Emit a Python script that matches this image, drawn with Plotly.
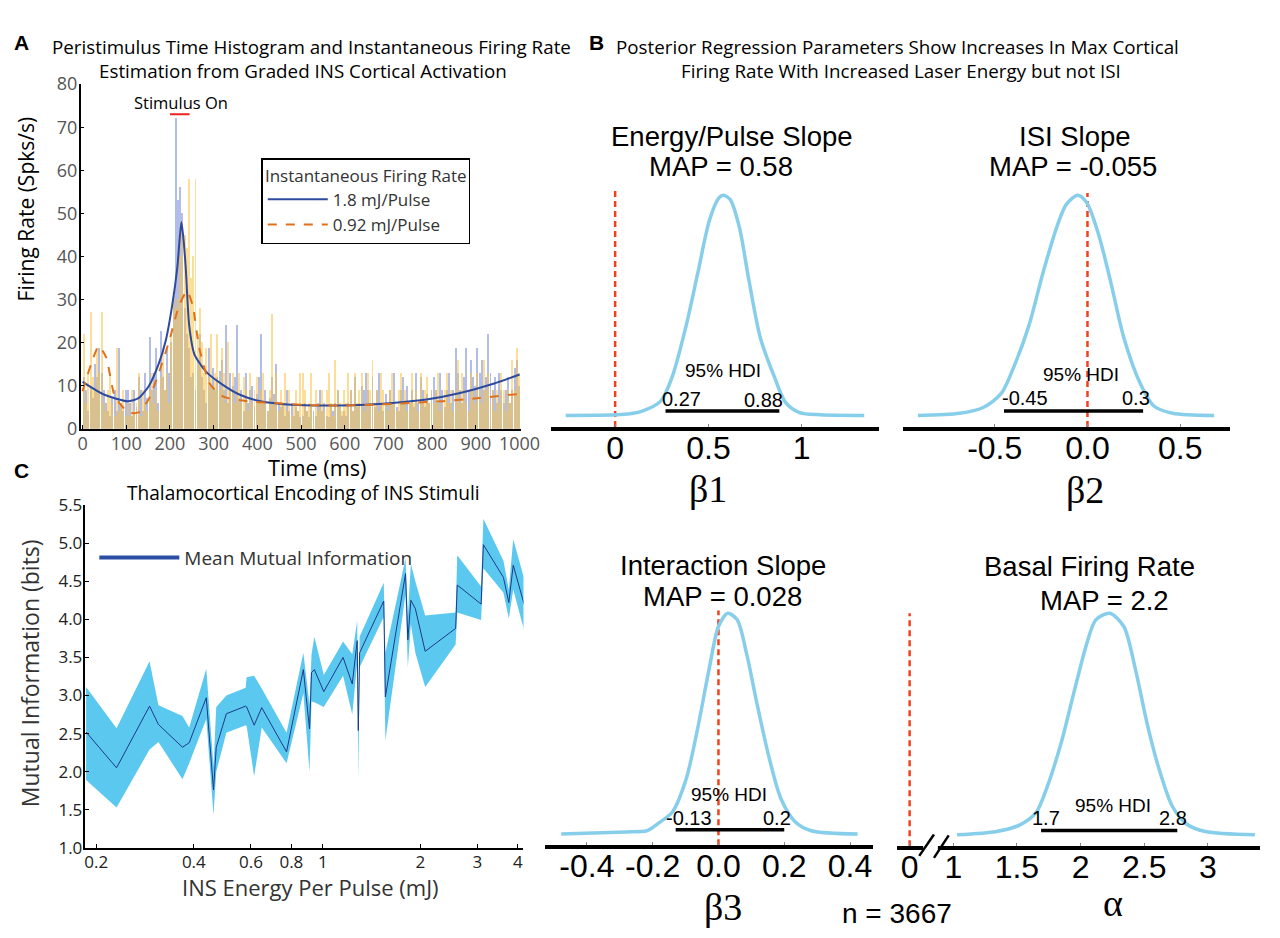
import numpy as np
import plotly.graph_objects as go

W, H = 1280, 938
def px(v): return v / W
def py(v): return 1 - v / H

SANS = "Open Sans, Liberation Sans, Arial, sans-serif"
ARIAL = "Liberation Sans, Arial, sans-serif"
SERIF = "Liberation Serif, Times New Roman, serif"

# ---------------- Panel A data ----------------
bin_width = 5
bin_start = list(range(0, 1000, bin_width))
psth_1p8 = [
    12, 9, 4, 10, 7, 15, 12, 18.7, 13, 9,
    6, 4, 3, 7, 9, 4, 18.7, 6, 4, 9,
    9, 6, 3, 9, 5, 12, 9, 4, 13, 7,
    21.3, 9, 13, 18.7, 6, 22.7, 12, 9, 18.7, 13,
    20, 31, 72, 53, 56, 50, 28, 22, 18.7, 12,
    13, 9, 16, 22, 12, 9, 6, 18.7, 10, 14,
    9, 12, 13.3, 16, 9, 24, 6, 13, 10, 12,
    24, 7, 9, 4, 13, 6, 9, 10, 5, 8,
    12, 22, 6, 9, 4, 7, 12, 8, 15, 6,
    5, 6, 3, 9, 4, 6, 3, 5, 4, 2.7,
    3, 6, 4, 2.7, 5, 4, 3, 6, 9, 4,
    6, 3, 2.7, 5, 4, 6, 9, 5, 3, 4,
    3, 6, 9, 4, 12, 5, 6, 10, 9, 13,
    9, 6, 12, 5, 9, 13, 6, 4, 8, 6,
    9, 6, 13, 5, 4, 9, 12, 6, 10, 6,
    9, 5, 13, 6, 12, 9, 5, 8, 6, 9,
    12, 9, 6, 13, 9, 5, 9, 13, 6, 9,
    18.7, 13, 9, 6, 12, 18.7, 9, 16, 12, 10,
    18.7, 13, 16, 9, 12, 22, 13, 9, 12, 6,
    13, 9, 6, 9, 12, 6, 9, 14, 16, 10,
]
psth_0p92 = [
    22, 6, 13, 27, 12, 9, 18.7, 13, 27, 6,
    4, 9, 13, 6, 3, 18.7, 4, 6, 9, 3,
    6, 3, 9, 4, 6, 13, 3, 9, 6, 4,
    9, 13, 6, 9, 4, 12, 18.7, 9, 13, 6,
    22, 31, 28, 30, 40, 48, 45, 42, 58, 35,
    40, 58, 22, 28, 20, 13, 18.7, 12, 22, 9,
    13, 22, 9, 18.7, 13, 6, 20, 9, 13, 6,
    9, 13, 6, 12, 9, 4, 13, 6, 9, 12,
    6, 9, 13, 6, 4, 9, 26.7, 6, 13, 4,
    9, 6, 13, 4, 9, 3, 6, 9, 4, 13,
    13, 9, 4, 6, 13, 3, 9, 4, 6, 9,
    4, 9, 13, 6, 3, 16, 9, 6, 4, 9,
    6, 13, 9, 4, 13, 6, 9, 13, 4, 6,
    13, 9, 16, 6, 9, 4, 13, 9, 6, 4,
    9, 13, 6, 4, 9, 13, 6, 9, 4, 6,
    13, 6, 9, 4, 13, 6, 9, 12, 6, 9,
    6, 9, 13, 4, 6, 9, 13, 6, 9, 4,
    9, 16, 6, 13, 9, 6, 4, 13, 9, 6,
    13, 9, 6, 16, 9, 13, 6, 9, 4, 9,
    6, 13, 9, 4, 9, 6, 16, 9, 18.7, 13,
]
rate_t_1p8 = [0, 50, 103, 128, 151, 174, 190, 205, 217, 226, 230, 236, 244, 256,
              283, 321, 360, 407, 477, 554, 632, 709, 787, 864, 942, 1000]
rate_1p8 = [10.9, 7.9, 6.4, 7.1, 9.8, 15, 20.3, 28.6, 37.6, 48, 45, 37.6, 24, 17.3,
            13.2, 10.2, 7.9, 6.4, 5.6, 5.4, 5.5, 6.0, 6.8, 8.3, 10.5, 12.6]
rate_t_0p92 = [0, 19.5, 37, 54, 74, 105, 128, 151, 174, 198, 221, 239, 252, 267,
               291, 321, 376, 438, 515, 593, 670, 748, 825, 903, 1000]
rate_0p92 = [8.7, 15, 19.2, 16.6, 7.5, 3.8, 3.8, 6.8, 12.8, 20.3, 28.6, 32, 28.6, 18.8,
             10.5, 7.5, 6.4, 6.0, 5.5, 5.4, 5.6, 6.0, 6.4, 7.1, 8.1]
stim_window = [200, 245]
stim_marker_level = 73

# ---------------- Panel C data ----------------
energy = [0.186, 0.231, 0.292, 0.311, 0.369, 0.387, 0.437, 0.460, 0.469, 0.504, 0.578,
          0.582, 0.614, 0.648, 0.773, 0.871, 0.910, 0.923, 0.942, 1.007, 1.155, 1.233,
          1.277, 1.287, 1.299, 1.542, 1.560, 1.800, 1.830, 1.870, 1.930, 2.070, 2.570,
          2.600, 3.080, 3.130, 3.610, 3.750, 3.870, 4.180]
mi_mean = [2.52, 2.05, 2.86, 2.62, 2.32, 2.38, 2.97, 1.76, 2.32, 2.76, 2.86,
           2.85, 2.61, 2.84, 2.26, 3.34, 2.56, 3.30, 3.34, 3.05, 3.50, 3.15,
           3.72, 2.54, 3.56, 4.24, 2.98, 4.60, 3.73, 4.25, 4.14, 3.58, 3.88,
           4.45, 4.20, 4.98, 4.55, 4.22, 4.71, 4.20]
mi_upper = [3.11, 2.57, 3.45, 2.87, 2.73, 2.58, 3.35, 2.07, 2.85, 3.00, 3.10,
            3.24, 3.26, 3.09, 2.51, 3.56, 2.88, 3.54, 3.77, 3.27, 3.71, 3.54,
            3.98, 2.67, 3.77, 4.48, 3.56, 4.80, 4.03, 4.73, 4.50, 4.05, 4.09,
            4.84, 4.43, 5.32, 4.77, 4.39, 5.05, 4.54]
mi_lower = [1.89, 1.53, 2.29, 2.39, 1.90, 2.11, 2.69, 1.43, 2.00, 2.51, 2.61,
            2.60, 1.94, 2.58, 2.11, 3.03, 2.00, 2.92, 2.91, 2.85, 3.26, 2.75,
            3.43, 1.90, 3.37, 4.03, 2.41, 4.33, 3.37, 3.94, 3.56, 3.11, 3.67,
            4.09, 3.99, 4.67, 4.35, 4.01, 4.39, 3.86]
energy_ticks = [0.2, 0.4, 0.6, 0.8, 1, 2, 3, 4]

# ---------------- Panel B data ----------------
b1_x = [-0.265, 0.05, 0.145, 0.244, 0.306, 0.381, 0.443, 0.505, 0.555, 0.58, 0.617,
        0.666, 0.716, 0.778, 0.853, 0.914, 0.988, 1.10, 1.335]
b1_d = [0, 0.005, 0.02, 0.065, 0.176, 0.41, 0.647, 0.885, 0.987, 1.0, 0.98,
        0.854, 0.618, 0.353, 0.176, 0.058, 0.013, 0.003, 0]
b2_x = [-0.914, -0.689, -0.565, -0.465, -0.39, -0.315, -0.24, -0.166, -0.115, -0.053,
        -0.003, 0.059, 0.122, 0.196, 0.284, 0.358, 0.459, 0.683]
b2_d = [0, 0.01, 0.035, 0.10, 0.235, 0.41, 0.647, 0.854, 0.957, 1.0,
        0.965, 0.824, 0.618, 0.353, 0.146, 0.043, 0.01, 0]
b3_x = [-0.478, -0.281, -0.218, -0.182, -0.14, -0.098, -0.063, -0.028, 0.0, 0.028,
        0.057, 0.085, 0.12, 0.155, 0.19, 0.233, 0.282, 0.423]
b3_d = [0, 0.01, 0.015, 0.05, 0.10, 0.25, 0.48, 0.75, 0.94, 1.0,
        0.97, 0.82, 0.57, 0.34, 0.16, 0.056, 0.015, 0]
al_x = [1.03, 1.34, 1.52, 1.65, 1.74, 1.85, 1.96, 2.05, 2.12, 2.23, 2.34, 2.43,
        2.52, 2.61, 2.72, 2.83, 2.98, 3.37]
al_d = [0, 0.015, 0.044, 0.10, 0.22, 0.42, 0.67, 0.865, 0.97, 1.0, 0.94, 0.75,
        0.51, 0.31, 0.13, 0.05, 0.015, 0]
hdi_b1 = [0.27, 0.88]
hdi_b2 = [-0.45, 0.30]
hdi_b3 = [-0.13, 0.20]
hdi_al = [1.69, 2.76]
alpha_zero_pos = 0.657   # where "0" sits on the broken alpha axis

fig = go.Figure()

# ---- Panel A traces ----
centers = [s + bin_width / 2 for s in bin_start]
fig.add_trace(go.Bar(x=centers, y=psth_1p8, width=bin_width * 0.9, xaxis="x", yaxis="y",
                     marker=dict(color="rgba(115,135,215,0.55)", line=dict(width=0)),
                     showlegend=False, hoverinfo="skip"))
fig.add_trace(go.Bar(x=centers, y=psth_0p92, width=bin_width * 0.9, xaxis="x", yaxis="y",
                     marker=dict(color="rgba(250,195,70,0.55)", line=dict(width=0)),
                     showlegend=False, hoverinfo="skip"))
fig.add_trace(go.Scatter(x=rate_t_1p8, y=rate_1p8, mode="lines", xaxis="x", yaxis="y",
                         line=dict(color="#2e4a9e", width=2, shape="spline", smoothing=0.6),
                         name="1.8 mJ/Pulse", legend="legend"))
fig.add_trace(go.Scatter(x=rate_t_0p92, y=rate_0p92, mode="lines", xaxis="x", yaxis="y",
                         line=dict(color="#e2701a", width=2, dash="dash", shape="spline", smoothing=0.6),
                         name="0.92 mJ/Pulse", legend="legend"))
fig.add_trace(go.Scatter(x=stim_window, y=[stim_marker_level] * 2, mode="lines", xaxis="x", yaxis="y",
                         line=dict(color="#ee2222", width=2), showlegend=False))

# ---- Panel C traces ----
fig.add_trace(go.Scatter(x=energy, y=mi_upper, mode="lines", xaxis="x2", yaxis="y2",
                         line=dict(width=0, color="#5bc8f0"), showlegend=False, hoverinfo="skip"))
fig.add_trace(go.Scatter(x=energy, y=mi_lower, mode="lines", xaxis="x2", yaxis="y2",
                         line=dict(width=0, color="#5bc8f0"), fill="tonexty",
                         fillcolor="#5bc8f0", showlegend=False, hoverinfo="skip"))
fig.add_trace(go.Scatter(x=energy, y=mi_mean, mode="lines", xaxis="x2", yaxis="y2",
                         line=dict(width=1, color="#1c3a8a"), showlegend=False))
fig.add_trace(go.Scatter(x=[None], y=[None], mode="lines", xaxis="x2", yaxis="y2",
                         line=dict(width=4, color="#2a4ea6"), name="Mean Mutual Information",
                         legend="legend2"))

# ---- Panel B traces ----
panels = [
    (b1_x, b1_d, hdi_b1, "x3", "y3", 0, [-0.053, 1.022]),
    (b2_x, b2_d, hdi_b2, "x4", "y4", 0, [-0.053, 1.01]),
    (b3_x, b3_d, hdi_b3, "x5", "y5", 0, [-0.05, 1.013]),
    (al_x, al_d, hdi_al, "x6", "y6", alpha_zero_pos, [-0.051, 1.0]),
]
for xs, ds, hdi, xa, ya, zpos, zy in panels:
    fig.add_trace(go.Scatter(x=[zpos, zpos], y=zy, mode="lines", xaxis=xa, yaxis=ya,
                             line=dict(color="#f2401c", width=2.5, dash="6px,4px"), showlegend=False))
    fig.add_trace(go.Scatter(x=xs, y=ds, mode="lines", xaxis=xa, yaxis=ya,
                             line=dict(color="#87ceeb", width=3.5, shape="spline", smoothing=0.8),
                             showlegend=False))
    fig.add_trace(go.Scatter(x=hdi, y=[0.02, 0.02], mode="lines", xaxis=xa, yaxis=ya,
                             line=dict(color="black", width=3.5), showlegend=False))

# ---------------- Layout ----------------
def small_axis(**kw):
    d = dict(showgrid=False, zeroline=False, showline=True, linecolor="black", linewidth=1.5,
             ticks="inside", ticklen=4, tickcolor="black", mirror=False, ticklabelstandoff=-2)
    d.update(kw)
    return d

def b_xaxis(domain, rng, tv, tt, anchor):
    return dict(domain=domain, range=rng, tickvals=tv, ticktext=tt, anchor=anchor,
                showgrid=False, zeroline=False, showline=True, linecolor="black", linewidth=3.5,
                ticks="inside", ticklen=3, tickcolor="#888", tickwidth=1,
                ticklabelstandoff=-10,
                tickfont=dict(family=ARIAL, size=32, color="black"), fixedrange=True)

def b_yaxis(domain, rng, anchor):
    return dict(domain=domain, range=rng, anchor=anchor, visible=False, showgrid=False,
                zeroline=False)

layout = dict(
    width=W, height=H, autosize=False, margin=dict(l=0, r=0, t=0, b=0, pad=0),
    paper_bgcolor="white", plot_bgcolor="rgba(0,0,0,0)",
    barmode="overlay", bargap=0,
    xaxis=small_axis(domain=[px(79), px(527)], range=[-4.5, 1002.2], anchor="y",
                     tickvals=list(range(0, 1001, 100)),
                     tickfont=dict(family=SANS, size=18, color="#555")),
    yaxis=small_axis(domain=[py(426.7), py(73)], range=[0, 80], anchor="x",
                     tickvals=list(range(0, 81, 10)),
                     tickfont=dict(family=SANS, size=18, color="#555")),
    xaxis2=small_axis(domain=[px(84), px(530)], type="log", range=[-0.7323, 0.6193], anchor="y2",
                      tickvals=energy_ticks, ticktext=[str(v) for v in energy_ticks],
                      tickfont=dict(family=SANS, size=17, color="#222")),
    yaxis2=small_axis(domain=[py(856.7), py(505)], range=[1, 5.5], anchor="x2",
                      tickvals=[1 + 0.5 * i for i in range(10)],
                      ticktext=[f"{1 + 0.5 * i:.1f}" for i in range(10)],
                      tickfont=dict(family=SANS, size=17, color="#222")),
    xaxis3=b_xaxis([px(558), px(892)], [-0.344, 1.414], [0, 0.5, 1], ["0", "0.5", "1"], "y3"),
    yaxis3=b_yaxis([py(425), py(182)], [-0.053, 1.022], "x3"),
    xaxis4=b_xaxis([px(916), px(1249)], [-0.997, 0.766], [-0.5, 0, 0.5], ["-0.5", "0.0", "0.5"], "y4"),
    yaxis4=b_yaxis([py(425), py(182)], [-0.053, 1.022], "x4"),
    xaxis5=b_xaxis([px(552), px(886)], [-0.527, 0.470], [-0.4, -0.2, 0, 0.2, 0.4],
                   ["-0.4", "-0.2", "0.0", "0.2", "0.4"], "y5"),
    yaxis5=b_yaxis([py(854), py(613)], [-0.05, 1.013], "x5"),
    xaxis6=b_xaxis([px(910), px(1280)], [0.555, 3.41], [alpha_zero_pos, 1, 1.5, 2, 2.5, 3],
                   ["0", "1", "1.5", "2", "2.5", "3"], "y6"),
    yaxis6=b_yaxis([py(855), py(613)], [-0.051, 1.013], "x6"),
    legend=dict(x=px(263), y=py(149), xanchor="left", yanchor="top", traceorder="normal",
                bordercolor="black", borderwidth=1.5, bgcolor="white",
                title=dict(text="Instantaneous Firing Rate", side="top center",
                           font=dict(family=SANS, size=17, color="#333")),
                font=dict(family=SANS, size=17, color="#333"), itemwidth=60,
                tracegroupgap=0),
    legend2=dict(x=px(93), y=py(559), xanchor="left", yanchor="middle",
                 bgcolor="rgba(0,0,0,0)", borderwidth=0,
                 font=dict(family=SANS, size=19, color="#333"), itemwidth=80),
    showlegend=True,
)
fig.update_layout(**layout)

# ---------------- Annotations ----------------
anns = []
def ann(text, x, y, size, family=SANS, color="black", xanchor="center", yanchor="middle", **kw):
    d = dict(text=text, x=px(x), y=py(y), xref="paper", yref="paper", showarrow=False,
             xanchor=xanchor, yanchor=yanchor, font=dict(family=family, size=size, color=color))
    d.update(kw)
    anns.append(d)

ann("<b>A</b>", 19, 30, 21, family=ARIAL)
ann("<b>B</b>", 604, 30, 21, family=ARIAL)
ann("<b>C</b>", 19, 470, 21, family=ARIAL)
ann("Peristimulus Time Histogram and Instantaneous Firing Rate", 314, 35, 18.8)
ann("Estimation from Graded INS Cortical Activation", 305, 60, 18.8)
ann("Posterior Regression Parameters Show Increases In Max Cortical", 911, 35, 18.8)
ann("Firing Rate With Increased Laser Energy but not ISI", 914, 60, 18.8)
ann("Stimulus On", 181, 92, 16.5)
ann("Time (ms)", 320, 466, 21.7)
ann("Firing Rate (Spks/s)", 23, 201, 21, textangle=-90)
ann("Thalamocortical Encoding of INS Stimuli", 306, 493, 19.1)
ann("Mutual Information (bits)", 27, 678, 23, color="#333", textangle=-90)
ann("INS Energy Per Pulse (mJ)", 313, 897, 22, color="#333")

# Panel B titles
TS = 27.5
ann("Energy/Pulse Slope", 742, 127, TS, family=ARIAL)
ann("MAP = 0.58", 731, 158, TS, family=ARIAL)
ann("ISI Slope", 1092, 127, TS, family=ARIAL)
ann("MAP = -0.055", 1090, 158, TS, family=ARIAL)
ann("Interaction Slope", 733, 567, TS, family=ARIAL)
ann("MAP = 0.028", 733, 599, TS, family=ARIAL)
ann("Basal Firing Rate", 1106, 568, TS, family=ARIAL)
ann("MAP = 2.2", 1122, 603, TS, family=ARIAL)
# HDI labels
ann("95% HDI", 733, 367, 19, family=ARIAL)
ann("0.27", 691, 396, 20, family=ARIAL)
ann("0.88", 774, 397, 20, family=ARIAL)
ann("95% HDI", 1098, 371, 19, family=ARIAL)
ann("-0.45", 1041, 395, 20, family=ARIAL)
ann("0.3", 1154, 395, 20, family=ARIAL)
ann("95% HDI", 739, 802, 19, family=ARIAL)
ann("-0.13", 699, 826, 20, family=ARIAL)
ann("0.2", 788, 826, 20, family=ARIAL)
ann("95% HDI", 1130, 813, 19, family=ARIAL)
ann("1.7", 1062, 826, 20, family=ARIAL)
ann("2.8", 1191, 826, 20, family=ARIAL)
# parameter symbols
ann("β1", 718, 488, 38, family=SERIF)
ann("β2", 1102, 490, 38, family=SERIF)
ann("β3", 733, 917, 38, family=SERIF)
ann("α", 1130, 913, 38, family=SERIF)
ann("n = 3667", 910, 924, 28, family=ARIAL)

fig.update_layout(annotations=anns)

# Broken-axis marks for alpha
shapes = [
    dict(type="rect", xref="paper", yref="paper", x0=px(937), x1=px(952), y0=py(859), y1=py(851),
         fillcolor="white", line=dict(width=0), layer="above"),
    dict(type="line", xref="paper", yref="paper", x0=px(933), y0=py(865), x1=px(948), y1=py(843),
         line=dict(color="black", width=2.5), layer="above"),
    dict(type="line", xref="paper", yref="paper", x0=px(948), y0=py(867), x1=px(963), y1=py(844),
         line=dict(color="black", width=2.5), layer="above"),
]
fig.update_layout(shapes=shapes)

fig.write_html(
    "out.html",
    config={"responsive": False},
    post_script=("document.documentElement.style.margin='0';document.body.style.margin='0';"
                 "document.body.style.padding='0';document.body.style.overflow='hidden';"
                 "document.documentElement.style.overflow='hidden';"),
)
